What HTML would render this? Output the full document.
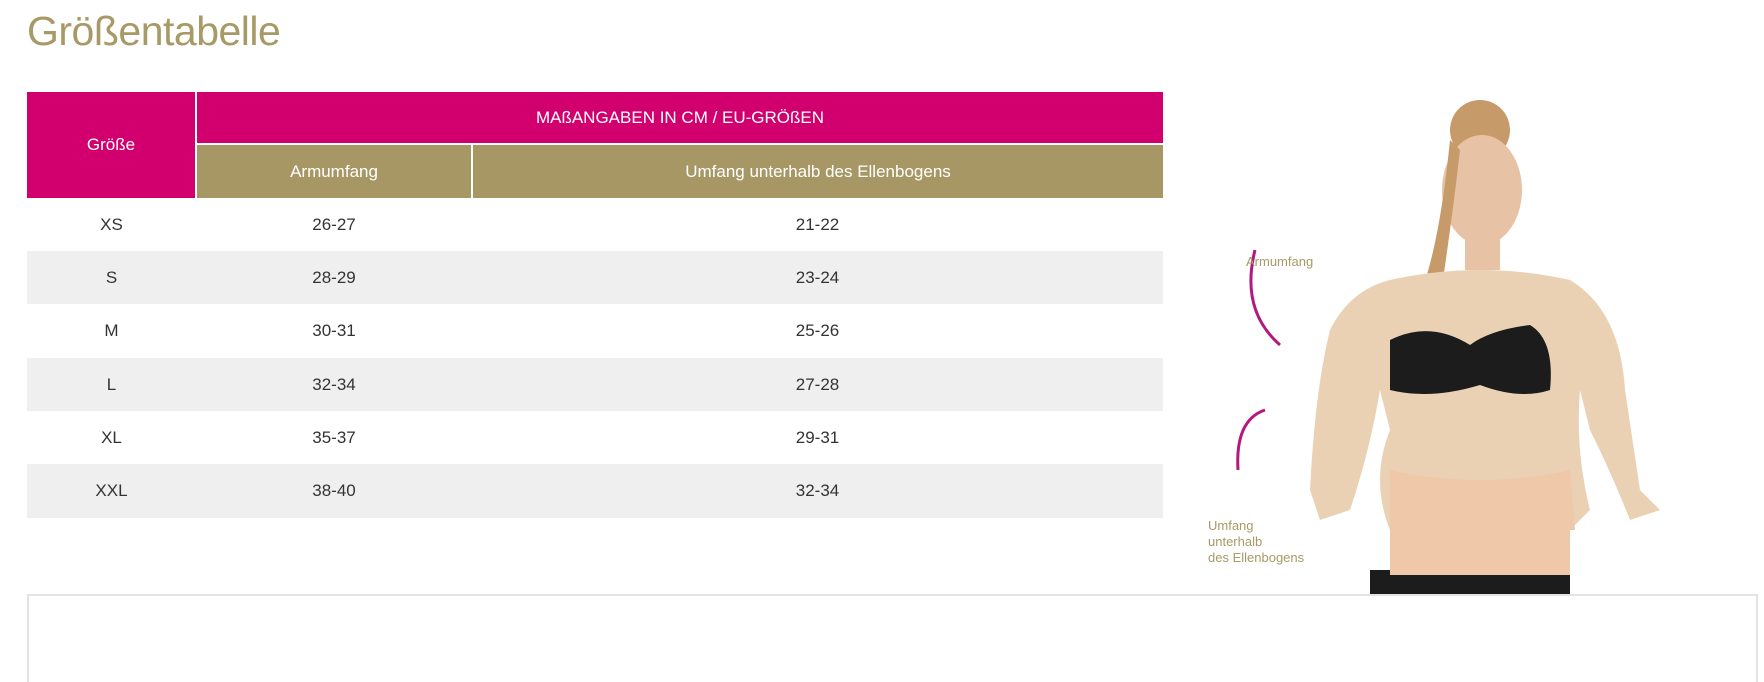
<!DOCTYPE html>
<html style="height:682px;overflow:hidden"><head><meta charset="utf-8"><style>
body{margin:0;width:1764px;height:682px;background:#fff;position:relative;overflow:hidden;font-family:"Liberation Sans",sans-serif;}
.t{position:absolute;left:27px;top:8px;font-size:41px;color:#a79a66;letter-spacing:-0.5px;}
table{position:absolute;left:27px;top:92px;width:1136px;border-collapse:collapse;font-size:17px;color:#333;}
td{text-align:center;padding:0;}
.m{background:#d1006e;color:#fff;}
.g{background:#a79764;color:#fff;}
tr.z td{background:#efefef;}
.box{position:absolute;left:27px;top:594px;width:1727px;height:88px;border:2px solid #e3e3e3;border-bottom:none;}
</style></head><body>
<div class="t">Größentabelle</div>
<table>
<tr style="height:52px"><td class="m" rowspan="2" style="width:168px;border-right:2px solid #fff">Größe</td><td class="m" colspan="2" style="border-bottom:2px solid #fff">MAßANGABEN IN CM / EU-GRÖßEN</td></tr>
<tr style="height:54px"><td class="g" style="width:274px;border-right:2px solid #fff">Armumfang</td><td class="g">Umfang unterhalb des Ellenbogens</td></tr>
<tr style="height:53px"><td>XS</td><td>26-27</td><td>21-22</td></tr>
<tr class="z" style="height:53px"><td>S</td><td>28-29</td><td>23-24</td></tr>
<tr style="height:54px"><td>M</td><td>30-31</td><td>25-26</td></tr>
<tr class="z" style="height:53px"><td>L</td><td>32-34</td><td>27-28</td></tr>
<tr style="height:53px"><td>XL</td><td>35-37</td><td>29-31</td></tr>
<tr class="z" style="height:54px"><td>XXL</td><td>38-40</td><td>32-34</td></tr>
</table>
<svg style="position:absolute;left:1190px;top:90px" width="520" height="505">
<ellipse cx="290" cy="40" rx="30" ry="30" fill="#c79a6a"/>
<ellipse cx="292" cy="100" rx="40" ry="55" fill="#e8c2a4"/>
<path d="M260 50 Q250 150 232 200 L250 210 Q262 130 270 60Z" fill="#c79a6a"/>
<rect x="275" y="140" width="35" height="40" fill="#e8c2a4"/>
<path d="M200 190 Q290 170 380 190 Q430 220 435 300 L450 400 L470 420 L440 430 Q420 380 400 340 L390 300 Q385 360 400 420 L380 440 L200 440 Q180 390 200 340 L190 300 Q180 360 160 420 L130 430 L120 400 Q125 300 140 240 Q160 200 200 190Z" fill="#ead1b4"/>
<path d="M200 380 Q290 400 380 380 L385 440 L200 440Z" fill="#efc8aa"/>
<path d="M200 250 Q240 230 280 255 Q300 240 340 235 Q365 250 360 300 Q330 310 290 295 Q240 310 200 300Z" fill="#1c1c1c"/>
<rect x="180" y="480" width="200" height="25" fill="#1c1c1c"/>
<rect x="200" y="440" width="180" height="45" fill="#efc8aa"/>
<path d="M65 160 Q50 220 90 255" stroke="#b2197e" stroke-width="3" fill="none"/>
<path d="M48 380 Q45 330 75 320" stroke="#b2197e" stroke-width="3" fill="none"/>
<text x="56" y="176" font-size="13" fill="#a79a66" font-family="Liberation Sans">Armumfang</text>
<text x="18" y="440" font-size="13" fill="#a79a66" font-family="Liberation Sans">Umfang</text>
<text x="18" y="456" font-size="13" fill="#a79a66" font-family="Liberation Sans">unterhalb</text>
<text x="18" y="472" font-size="13" fill="#a79a66" font-family="Liberation Sans">des Ellenbogens</text>
</svg>
<div class="box"></div>
</body></html>
